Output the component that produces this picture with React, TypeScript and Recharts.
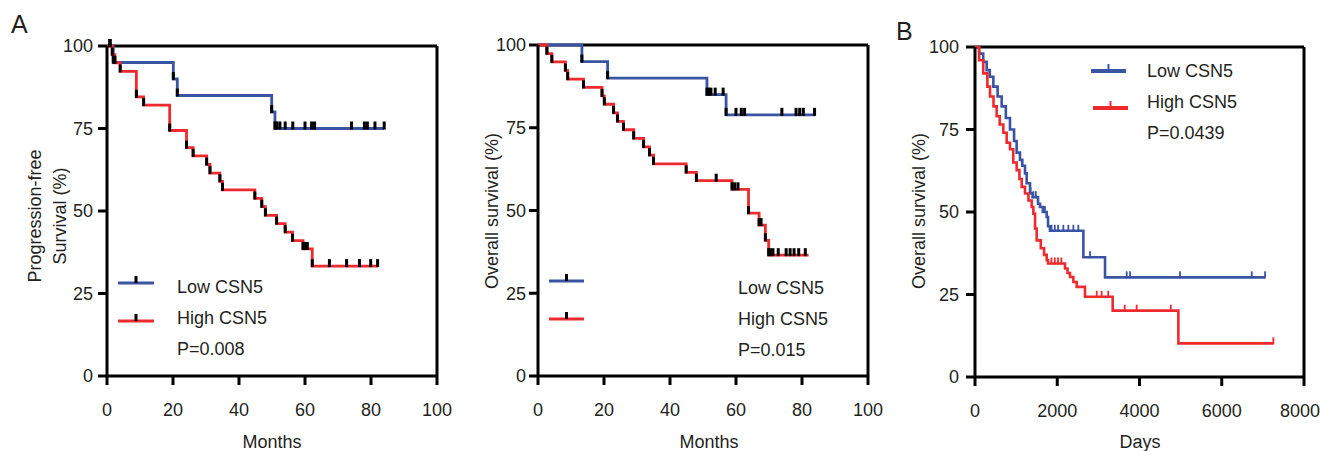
import React from "react";
import { ComposedChart, Line, Scatter, XAxis, YAxis, ReferenceLine } from "recharts";

const BLUE = "#3a54a4";
const RED = "#ee2a2f";
const INK = "#231f20";
const FONT = "'Liberation Sans', Arial, Helvetica, sans-serif";

// Panel A, left: progression-free survival (months)
const pfsLowT = [0, 1.9, 20.1, 21.3, 49.9, 50.9, 84];
const pfsLowS = [100, 95, 90, 85, 80, 75, 75];
const pfsLowCensor = [1, 51.5, 52.4, 54, 56.3, 60, 62, 62.9, 74.1, 78, 78.9, 81.2, 84];

const pfsHighT = [0, 1.6, 2.4, 4, 8.9, 11.1, 19, 24.1, 26.1, 30.2, 31.2, 34.2, 35, 44.8, 46.9, 48, 51.4, 54, 56.2, 59.4, 62.2, 82];
const pfsHighS = [100, 97.4, 94.9, 92.3, 84.6, 82.1, 74.4, 69.2, 66.7, 64.1, 61.5, 59, 56.4, 53.8, 51.3, 48.7, 46.2, 43.6, 41, 38.5, 33.3, 33.3];
const pfsHighCensor = [0.8, 59.9, 60.7, 67.4, 72.6, 76.5, 79.9, 82];

// Panel A, right: overall survival (months)
const osLowT = [0, 13.3, 21.1, 51.2, 57, 84];
const osLowS = [100, 95, 90, 85, 78.9, 78.9];
const osLowCensor = [51.8, 52.4, 53.7, 56.1, 60, 61.6, 62.6, 73.9, 78.2, 79.3, 80.4, 83.8];

const osHighT = [0, 2.7, 4.2, 8.3, 9, 13.8, 19.4, 20.1, 22.9, 24.1, 25.9, 29, 32, 33.8, 35, 44.9, 48, 58.8, 63.8, 67, 68.9, 69.9, 82];
const osHighS = [100, 97.4, 94.9, 92.3, 89.7, 87.2, 84.6, 82.1, 79.5, 76.9, 74.4, 71.8, 69.2, 66.7, 64.1, 61.5, 59, 56.4, 49.2, 45.6, 41, 36.5, 36.5];
const osHighCensor = [54, 59.6, 60.6, 67.6, 70.4, 71.2, 72.8, 75.2, 76.4, 77.6, 79, 81];

// Panel B: overall survival (days)
const tcgaLowT = [0, 100, 200, 284, 360, 446, 550, 649, 750, 851, 950, 1013, 1094, 1150, 1216, 1257, 1338, 1400, 1532, 1581, 1650, 1743, 1776, 1823, 2635, 3162, 7053];
const tcgaLowS = [100, 98, 95.5, 93, 91, 88, 85, 82, 78.5, 75, 71.5, 68, 65.8, 64, 61.7, 58.7, 55.7, 54.5, 52.5, 51.5, 50, 48.5, 45.7, 44.3, 36.3, 30.2, 30.2];
const tcgaLowCensor = [1350, 1420, 1480, 1700, 1860, 1940, 2020, 2148, 2270, 2392, 2513, 2797, 3689, 3770, 4985, 6729, 7053];

const tcgaHighT = [0, 100, 200, 300, 365, 450, 527, 600, 689, 770, 851, 930, 1013, 1080, 1135, 1216, 1300, 1378, 1419, 1460, 1500, 1600, 1680, 1743, 1776, 2189, 2250, 2310, 2392, 2473, 2675, 3348, 4945, 7255];
const tcgaHighS = [100, 96, 92, 88, 85, 82, 79, 76.5, 74, 71, 69, 65, 62.7, 60, 57.6, 55.6, 53.5, 51.5, 49.5, 45, 41.4, 39, 37, 35.4, 34.4, 32.9, 31.5, 30.3, 28.8, 27.3, 24.3, 20.1, 10.2, 10.2];
const tcgaHighCensor = [1860, 1940, 2020, 2100, 2960, 3080, 3240, 3640, 3931, 4760, 7255];

const monthTicks = [0, 20, 40, 60, 80, 100];
const dayTicks = [0, 2000, 4000, 6000, 8000];
const survTicks = [0, 25, 50, 75, 100];

type Pt = { t: number; s: number };

const steps = (T: number[], S: number[]): Pt[] => T.map((t, i) => ({ t, s: S[i] }));

const survAt = (T: number[], S: number[], t: number) => {
  let v = S[0];
  T.forEach((x, i) => {
    if (x <= t) v = S[i];
  });
  return v;
};

// tick marks: censored times, plus the event steps when withEvents is set
const marks = (T: number[], S: number[], censor: number[], withEvents: boolean): Pt[] => {
  const c = censor.map((t) => ({ t, s: survAt(T, S, t) }));
  if (!withEvents) return c;
  return [...steps(T, S).slice(1, -1), ...c];
};

const tickShape = (color: string, w: number, h: number) => (p: any) =>
  <rect x={p.cx - w / 2} y={p.cy - h} width={w} height={h + 1} fill={color} />;

// x tick label; the last one is nudged left so it stays inside the page
const XTick = (xMax: number, nudge: number) => (p: any) => {
  const v = p.payload.value;
  return (
    <text
      x={p.x - (v === xMax ? nudge : 0)}
      y={p.y}
      dy="0.71em"
      textAnchor="middle"
      fill={INK}
      fontSize={18}
      fontFamily={FONT}
    >
      {v}
    </text>
  );
};

type Series = { color: string; data: Pt[]; marks: Pt[] };

function KMPanel(props: {
  left: number;
  width: number;
  margin: { top: number; right: number; bottom: number; left: number };
  xMax: number;
  xTicks: number[];
  lastNudge: number;
  yTickMargin: number;
  series: Series[];
  markColor?: string;
  markW: number;
  markH: number;
  lineW: number;
}) {
  const { left, width, margin, xMax, xTicks, lastNudge, yTickMargin, series, markColor, markW, markH, lineW } = props;
  const axisStyle = { stroke: "#000", strokeWidth: 3 };
  const tickStyle = { fill: INK, fontSize: 18, fontFamily: FONT };
  return (
    <div style={{ position: "absolute", left, top: 0 }}>
      <ComposedChart width={width} height={451} margin={margin}>
        <XAxis
          type="number"
          dataKey="t"
          domain={[0, xMax]}
          ticks={xTicks}
          axisLine={axisStyle}
          tickLine={axisStyle}
          tickSize={9}
          tickMargin={18}
          tick={XTick(xMax, lastNudge)}
          height={40}
          interval={0}
        />
        <YAxis
          type="number"
          dataKey="s"
          domain={[0, 100]}
          ticks={survTicks}
          axisLine={axisStyle}
          tickLine={axisStyle}
          tickSize={9}
          tickMargin={yTickMargin}
          tick={tickStyle}
          width={50}
          interval={0}
        />
        <ReferenceLine y={100} stroke="#000" strokeWidth={3} />
        <ReferenceLine x={xMax} stroke="#000" strokeWidth={3} />
        {series.map((s, i) => (
          <Line
            key={"l" + i}
            data={s.data}
            dataKey="s"
            type="stepAfter"
            stroke={s.color}
            strokeWidth={lineW}
            dot={false}
            isAnimationActive={false}
          />
        ))}
        {series.map((s, i) => (
          <Scatter
            key={"m" + i}
            data={s.marks}
            dataKey="s"
            shape={tickShape(markColor || s.color, markW, markH)}
            isAnimationActive={false}
          />
        ))}
      </ComposedChart>
    </div>
  );
}

function LegendRow(p: { x1: number; x2: number; y: number; color: string; tickColor: string; w: number; tw: number }) {
  const mid = (p.x1 + p.x2) / 2;
  return (
    <g>
      <line x1={p.x1} x2={p.x2} y1={p.y} y2={p.y} stroke={p.color} strokeWidth={p.w} />
      <rect x={mid - p.tw / 2} y={p.y - 7} width={p.tw} height={7} fill={p.tickColor} />
    </g>
  );
}

export default function App() {
  const txt = { fill: INK, fontSize: 18, fontFamily: FONT };
  return (
    <div
      style={{
        position: "absolute",
        left: 0,
        top: 0,
        width: 1322,
        height: 451,
        overflow: "hidden",
        background: "#fff",
        fontFamily: FONT,
      }}
    >
      <KMPanel
        left={0}
        width={470}
        margin={{ top: 46, right: 33, bottom: 35, left: 57 }}
        xMax={100}
        xTicks={monthTicks}
        lastNudge={0}
        yTickMargin={5}
        markColor="#000"
        markW={3}
        markH={7}
        lineW={2.8}
        series={[
          { color: BLUE, data: steps(pfsLowT, pfsLowS), marks: marks(pfsLowT, pfsLowS, pfsLowCensor, true) },
          { color: RED, data: steps(pfsHighT, pfsHighS), marks: marks(pfsHighT, pfsHighS, pfsHighCensor, true) },
        ]}
      />
      <KMPanel
        left={440}
        width={470}
        margin={{ top: 45, right: 42, bottom: 35, left: 48 }}
        xMax={100}
        xTicks={monthTicks}
        lastNudge={0}
        yTickMargin={3}
        markColor="#000"
        markW={3}
        markH={7}
        lineW={2.8}
        series={[
          { color: BLUE, data: steps(osLowT, osLowS), marks: marks(osLowT, osLowS, osLowCensor, true) },
          { color: RED, data: steps(osHighT, osHighS), marks: marks(osHighT, osHighS, osHighCensor, true) },
        ]}
      />
      <KMPanel
        left={880}
        width={442}
        margin={{ top: 47, right: 18, bottom: 34, left: 45 }}
        xMax={8000}
        xTicks={dayTicks}
        lastNudge={4}
        yTickMargin={7}
        markW={1.8}
        markH={6}
        lineW={2.6}
        series={[
          { color: BLUE, data: steps(tcgaLowT, tcgaLowS), marks: marks(tcgaLowT, tcgaLowS, tcgaLowCensor, false) },
          { color: RED, data: steps(tcgaHighT, tcgaHighS), marks: marks(tcgaHighT, tcgaHighS, tcgaHighCensor, false) },
        ]}
      />
      <svg width={1322} height={451} style={{ position: "absolute", left: 0, top: 0, pointerEvents: "none" }}>
        <text x={11} y={33} fill={INK} fontSize={25} fontFamily={FONT}>A</text>
        <text x={896} y={40} fill={INK} fontSize={25} fontFamily={FONT}>B</text>

        <text {...txt} x={272} y={448} textAnchor="middle">Months</text>
        <text {...txt} x={709} y={448} textAnchor="middle">Months</text>
        <text {...txt} x={1140} y={448} textAnchor="middle">Days</text>

        <text {...txt} textAnchor="middle" transform="translate(41,216) rotate(-90)">Progression-free</text>
        <text {...txt} textAnchor="middle" transform="translate(66,216) rotate(-90)">Survival (%)</text>
        <text {...txt} textAnchor="middle" transform="translate(498,211) rotate(-90)">Overall survival (%)</text>
        <text {...txt} textAnchor="middle" transform="translate(925,211) rotate(-90)">Overall survival (%)</text>

        <LegendRow x1={118} x2={154} y={283} color={BLUE} tickColor="#000" w={3} tw={3} />
        <LegendRow x1={118} x2={154} y={321} color={RED} tickColor="#000" w={3} tw={3} />
        <text {...txt} x={177} y={293}>Low CSN5</text>
        <text {...txt} x={177} y={324}>High CSN5</text>
        <text {...txt} x={177} y={355}>P=0.008</text>

        <LegendRow x1={549} x2={584} y={281} color={BLUE} tickColor="#000" w={3} tw={3} />
        <LegendRow x1={549} x2={584} y={319} color={RED} tickColor="#000" w={3} tw={3} />
        <text {...txt} x={738} y={294}>Low CSN5</text>
        <text {...txt} x={738} y={325}>High CSN5</text>
        <text {...txt} x={738} y={356}>P=0.015</text>

        <LegendRow x1={1091} x2={1126} y={71} color={BLUE} tickColor={BLUE} w={4} tw={2} />
        <LegendRow x1={1093} x2={1128} y={108} color={RED} tickColor={RED} w={4} tw={2} />
        <text {...txt} x={1147} y={77}>Low CSN5</text>
        <text {...txt} x={1147} y={108}>High CSN5</text>
        <text {...txt} x={1147} y={139}>P=0.0439</text>
      </svg>
    </div>
  );
}
